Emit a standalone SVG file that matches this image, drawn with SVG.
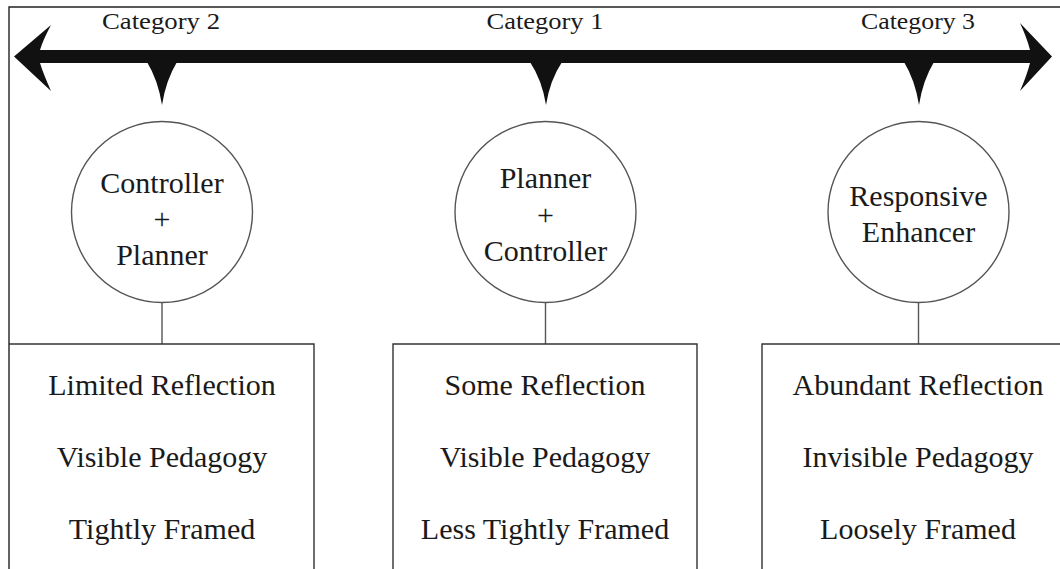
<svg xmlns="http://www.w3.org/2000/svg" width="1060" height="569" viewBox="0 0 1060 569">
<style>
.cat{font-size:23px}
.t{font-size:30px}
.node circle{fill:none;stroke:#555;stroke-width:1.4}
.box{fill:none;stroke:#333;stroke-width:1.4}
.conn line{stroke:#555;stroke-width:1.4}
.frame{fill:none;stroke:#222;stroke-width:1.4}
.blk{fill:#111}
</style>
<rect width="1060" height="569" fill="#fff"/>
<path class="frame" d="M1060,7 H9 V569"/>
<g font-family="'Liberation Serif', 'DejaVu Serif', serif" fill="#1a1a1a" text-anchor="middle">
<g id="axis">
<path class="blk" d="M14,56.5 L51,25 Q43,40 40,50 L1030,50 Q1027,38 1020,23 L1052,56.5 L1020,91 Q1027,75 1030,63 L40,63 Q43,73 51,91 Z"/>
<path class="blk" d="M147,62 Q158,80 162,105 Q166,80 177,62 Z"/>
<path class="blk" d="M530,62 Q542,80 546,105 Q550,80 562,62 Z"/>
<path class="blk" d="M904,62 Q915,80 919,105 Q923,80 934,62 Z"/>
<text class="cat" x="161" y="29" textLength="118" lengthAdjust="spacingAndGlyphs">Category 2</text>
<text class="cat" x="545" y="29" textLength="117" lengthAdjust="spacingAndGlyphs">Category 1</text>
<text class="cat" x="918" y="29" textLength="114" lengthAdjust="spacingAndGlyphs">Category 3</text>
</g>
<g class="conn" id="connectors">
<line x1="162" y1="302" x2="162" y2="344"/>
<line x1="545.5" y1="302" x2="545.5" y2="344"/>
<line x1="918.5" y1="302" x2="918.5" y2="344"/>
</g>
<g class="node" id="circle-cat2">
<circle cx="162" cy="212" r="90.5"/>
<text class="t" x="162" y="193">Controller</text>
<text class="t" x="162" y="229">+</text>
<text class="t" x="162" y="265">Planner</text>
</g>
<g class="node" id="circle-cat1">
<circle cx="545.5" cy="212" r="90.5"/>
<text class="t" x="545.5" y="188">Planner</text>
<text class="t" x="545.5" y="225">+</text>
<text class="t" x="545.5" y="261">Controller</text>
</g>
<g class="node" id="circle-cat3">
<circle cx="918.5" cy="212" r="90.5"/>
<text class="t" x="918.5" y="206">Responsive</text>
<text class="t" x="918.5" y="242">Enhancer</text>
</g>
<g id="box-cat2">
<path class="box" d="M9,344 H314 V569"/>
<text class="t" x="162" y="395">Limited Reflection</text>
<text class="t" x="162" y="467">Visible Pedagogy</text>
<text class="t" x="162" y="539">Tightly Framed</text>
</g>
<g id="box-cat1">
<path class="box" d="M393,569 V344 H697 V569"/>
<text class="t" x="545" y="395">Some Reflection</text>
<text class="t" x="545" y="467">Visible Pedagogy</text>
<text class="t" x="545" y="539">Less Tightly Framed</text>
</g>
<g id="box-cat3">
<path class="box" d="M762,569 V344 H1060"/>
<text class="t" x="918" y="395">Abundant Reflection</text>
<text class="t" x="918" y="467">Invisible Pedagogy</text>
<text class="t" x="918" y="539">Loosely Framed</text>
</g>
</g>
</svg>
